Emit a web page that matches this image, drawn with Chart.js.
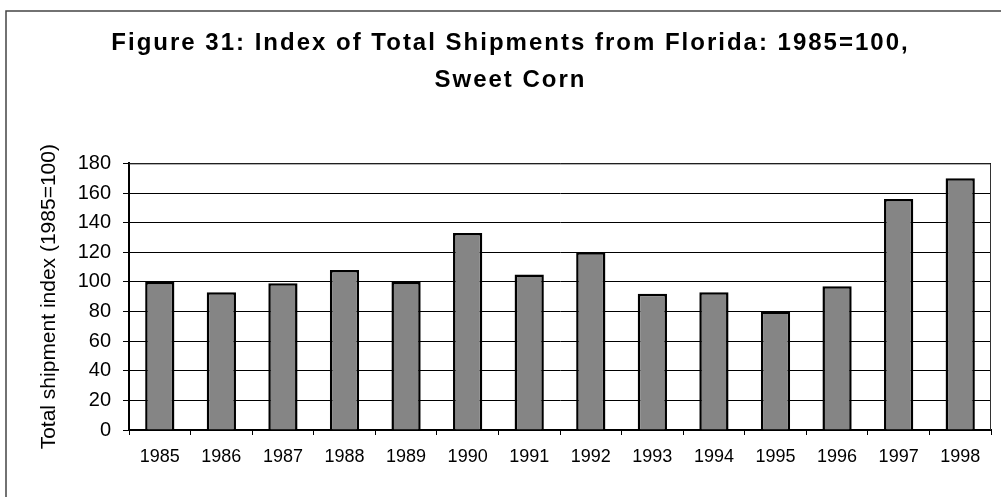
<!DOCTYPE html>
<html>
<head>
<meta charset="utf-8">
<script src="https://cdn.jsdelivr.net/npm/chart.js@4"></script>
<style>
  html, body { margin: 0; padding: 0; background: #fff; }
  #wrap { width: 1001px; height: 497px; position: relative; }
</style>
</head>
<body>
<div id="wrap"><canvas id="Chart"></canvas></div>
<script>
// values
var years = ["1985", "1986", "1987", "1988", "1989", "1990", "1991",
             "1992", "1993", "1994", "1995", "1996", "1997", "1998"];
var shipIndex = [100, 93, 99, 108, 100, 133, 105, 120, 92, 93, 80, 97, 156, 170];
var titleLines = ["Figure 31: Index of Total Shipments from Florida: 1985=100,", "Sweet Corn"];
var yLabel = "Total shipment index (1985=100)";

// page frame (top + left edge of the scanned box) and the plot-area border
var framePlugin = {
    id: "frame",
    beforeDraw: function (chart) {
        // the scanned title is letter-spaced and sits a bit right of centre
        var tb = chart.titleBlock;
        if (tb && !tb._spaced) {
            var orig = tb.draw;
            tb.draw = function () {
                this.ctx.save();
                this.ctx.letterSpacing = "2px";
                this.ctx.translate(15, 0);
                orig.apply(this, arguments);
                this.ctx.restore();
            };
            tb._spaced = true;
        }
        var ctx = chart.ctx;
        ctx.save();
        ctx.strokeStyle = "#444";
        ctx.lineWidth = 1.5;
        ctx.beginPath();
        ctx.moveTo(6, 497);
        ctx.lineTo(6, 11);
        ctx.lineTo(1001, 11);
        ctx.stroke();
        ctx.restore();
    },
    afterDraw: function (chart) {
        var a = chart.chartArea;
        var ctx = chart.ctx;
        ctx.save();
        ctx.strokeStyle = "#333";
        ctx.lineWidth = 1;
        ctx.beginPath();
        ctx.moveTo(a.left, a.top + 0.5);
        ctx.lineTo(a.right - 0.5, a.top + 0.5);
        ctx.lineTo(a.right - 0.5, a.bottom);
        ctx.stroke();
        ctx.restore();
    }
};

new Chart("Chart", {
    type: "bar",
    data: {
        labels: years,
        datasets: [{
            data: shipIndex,
            backgroundColor: "#858585",
            borderColor: "#000",
            borderWidth: 2.5,
            barPercentage: 0.95,
            categoryPercentage: 0.5
        }]
    },
    options: {
        responsive: true,
        maintainAspectRatio: false,
        animation: false,
        layout: { padding: { left: 0, right: 10, top: 0, bottom: 0 } },
        plugins: {
            legend: { display: false },
            tooltip: { enabled: false },
            title: {
                display: true,
                text: titleLines,
                color: "#000",
                font: { family: "'Liberation Sans', Arial, sans-serif", size: 24, weight: "bold", lineHeight: 1.55 },
                padding: { top: 25, bottom: 64 }
            }
        },
        scales: {
            x: {
                grid: {
                    offset: true,
                    drawOnChartArea: false,
                    drawTicks: true,
                    tickLength: 5,
                    color: "#000"
                },
                border: { color: "#000", width: 2 },
                ticks: {
                    color: "#000",
                    padding: 11,
                    maxRotation: 0,
                    font: { family: "'Liberation Sans', Arial, sans-serif", size: 18 }
                },
                afterFit: function (scale) { scale.height = 67; }
            },
            y: {
                min: 0,
                max: 180,
                grid: {
                    color: "#000",
                    lineWidth: 1,
                    tickLength: 6
                },
                border: { color: "#000", width: 2 },
                ticks: {
                    stepSize: 20,
                    color: "#000",
                    padding: 12,
                    font: { family: "'Liberation Sans', Arial, sans-serif", size: 20 }
                },
                title: {
                    display: true,
                    text: yLabel,
                    color: "#000",
                    font: { family: "'Liberation Sans', Arial, sans-serif", size: 21 },
                    padding: { top: 37, bottom: 0 }
                },
                afterFit: function (scale) { scale.width = 129; }
            }
        }
    },
    plugins: [framePlugin]
});
</script>
</body>
</html>
